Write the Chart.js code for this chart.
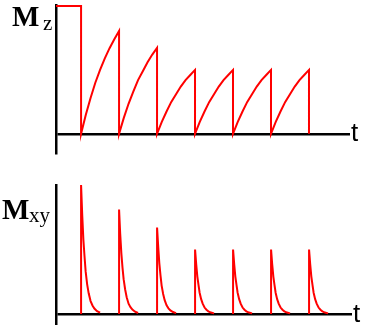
<!DOCTYPE html>
<html><head><meta charset="utf-8">
<script src="https://cdn.jsdelivr.net/npm/chart.js@4/dist/chart.umd.min.js"></script>
<style>
html,body{margin:0;padding:0;background:#fff;width:365px;height:325px;overflow:hidden}
#wrap{position:relative;width:365px;height:325px}
canvas{position:absolute;left:0}
.lbl{position:absolute;color:#000;line-height:1;white-space:nowrap;font-family:"Liberation Serif","Times New Roman",serif}
.sans{font-family:"Liberation Sans",Arial,sans-serif}
</style></head><body>
<div id="wrap">
<canvas id="c1" width="365" height="160" style="top:0"></canvas>
<canvas id="c2" width="365" height="165" style="top:160px"></canvas>
<span class="lbl" style="left:12px;top:2px;font-size:29px;font-weight:bold">M</span>
<span class="lbl" style="left:43px;top:13px;font-size:21px">z</span>
<span class="lbl" style="left:2px;top:195px;font-size:29px;font-weight:bold">M</span>
<span class="lbl" style="left:29px;top:205px;font-size:21px">xy</span>
<span class="lbl sans" style="left:351px;top:119px;font-size:26px">t</span>
<span class="lbl sans" style="left:353px;top:300px;font-size:26px">t</span>
</div>
<script>
// Pulse times (t units = one repetition interval)
const pulseTimes = [0, 1, 2, 3, 4, 5, 6];
const startTime = -0.66;
const initialMz = 1.0;

// Mz recovery after each pulse: sample offsets and values
const recoveryOffsets = [0, 0.125, 0.25, 0.375, 0.5, 0.625, 0.75, 0.875, 1];
const mzSeg1 = [0, 0.15, 0.28, 0.40, 0.50, 0.59, 0.67, 0.74, 0.805];
const mzSeg2 = [0, 0.125, 0.235, 0.33, 0.42, 0.49, 0.56, 0.62, 0.672];
const mzSeg3 = [0, 0.093, 0.175, 0.25, 0.31, 0.37, 0.42, 0.46, 0.50];
const mzSeg4 = [0, 0.093, 0.175, 0.25, 0.31, 0.37, 0.42, 0.46, 0.50];
const mzSeg5 = [0, 0.093, 0.175, 0.25, 0.31, 0.37, 0.42, 0.46, 0.50];
const mzSeg6 = [0, 0.093, 0.175, 0.25, 0.31, 0.37, 0.42, 0.46, 0.50];
const mzSegments = [mzSeg1, mzSeg2, mzSeg3, mzSeg4, mzSeg5, mzSeg6];

// Mxy decay after each pulse: sample offsets and values
const decayOffsets = [0, 0.03, 0.06, 0.09, 0.12, 0.16, 0.2, 0.25, 0.3, 0.35, 0.42, 0.5];
const mxy1 = [1.00, 0.77, 0.58, 0.45, 0.33, 0.23, 0.16, 0.10, 0.066, 0.042, 0.022, 0.010];
const mxy2 = [0.81, 0.62, 0.47, 0.36, 0.27, 0.19, 0.13, 0.08, 0.053, 0.034, 0.018, 0.008];
const mxy3 = [0.67, 0.52, 0.39, 0.30, 0.22, 0.155, 0.107, 0.067, 0.044, 0.028, 0.015, 0.007];
const mxy4 = [0.50, 0.385, 0.29, 0.225, 0.165, 0.115, 0.08, 0.05, 0.033, 0.021, 0.011, 0.005];
const mxy5 = [0.50, 0.385, 0.29, 0.225, 0.165, 0.115, 0.08, 0.05, 0.033, 0.021, 0.011, 0.005];
const mxy6 = [0.50, 0.385, 0.29, 0.225, 0.165, 0.115, 0.08, 0.05, 0.033, 0.021, 0.011, 0.005];
const mxy7 = [0.50, 0.385, 0.29, 0.225, 0.165, 0.115, 0.08, 0.05, 0.033, 0.021, 0.011, 0.005];
const mxySpikes = [mxy1, mxy2, mxy3, mxy4, mxy5, mxy6, mxy7];

// Build Mz points
const mzPoints = [{x: startTime, y: initialMz}, {x: pulseTimes[0], y: initialMz}];
mzSegments.forEach((seg, i) => {
  seg.forEach((v, j) => mzPoints.push({x: pulseTimes[i] + recoveryOffsets[j], y: v}));
});
mzPoints.push({x: pulseTimes[6], y: 0});

// Build Mxy points
const mxyPoints = [];
mxySpikes.forEach((sp, i) => {
  mxyPoints.push({x: pulseTimes[i], y: 0});
  sp.forEach((v, j) => mxyPoints.push({x: pulseTimes[i] + decayOffsets[j], y: v}));
  mxyPoints.push({x: pulseTimes[i] + 0.5, y: null});
});

function makeOpts(xmax, ymin, ymax, pad) {
  return {
    responsive: false, animation: false, events: [],
    layout: {padding: pad},
    plugins: {legend: {display: false}, tooltip: {enabled: false}},
    scales: {
      x: {type: 'linear', min: startTime, max: xmax, display: true,
          afterFit: s => { s.height = 0; },
          ticks: {display: false}, grid: {display: false, drawTicks: false}, border: {display: false}},
      y: {min: ymin, max: ymax, display: true,
          afterFit: s => { s.width = 0; },
          ticks: {display: false, stepSize: 10},
          grid: {drawTicks: false, lineWidth: 2.5, color: c => c.tick && c.tick.value === 0 ? '#000' : 'rgba(0,0,0,0)'},
          afterBuildTicks: s => { s.ticks = [{value: 0}]; },
          border: {display: true, color: '#000', width: 2.5}}
    }
  };
}

new Chart(document.getElementById('c1'), {
  type: 'line',
  data: {datasets: [{data: mzPoints, borderColor: '#ff0000', borderWidth: 2, pointRadius: 0, tension: 0, fill: false, clip: false}]},
  options: makeOpts(7.08, -0.15, 1.008, {left: 56, top: 5, right: 15, bottom: 7})
});

new Chart(document.getElementById('c2'), {
  type: 'line',
  data: {datasets: [{data: mxyPoints, borderColor: '#ff0000', borderWidth: 2, pointRadius: 0, tension: 0, fill: false, clip: false, spanGaps: false}]},
  options: makeOpts(7.13, -0.0775, 1.0, {left: 56, top: 25, right: 13, bottom: 1})
});
</script>
</body></html>
